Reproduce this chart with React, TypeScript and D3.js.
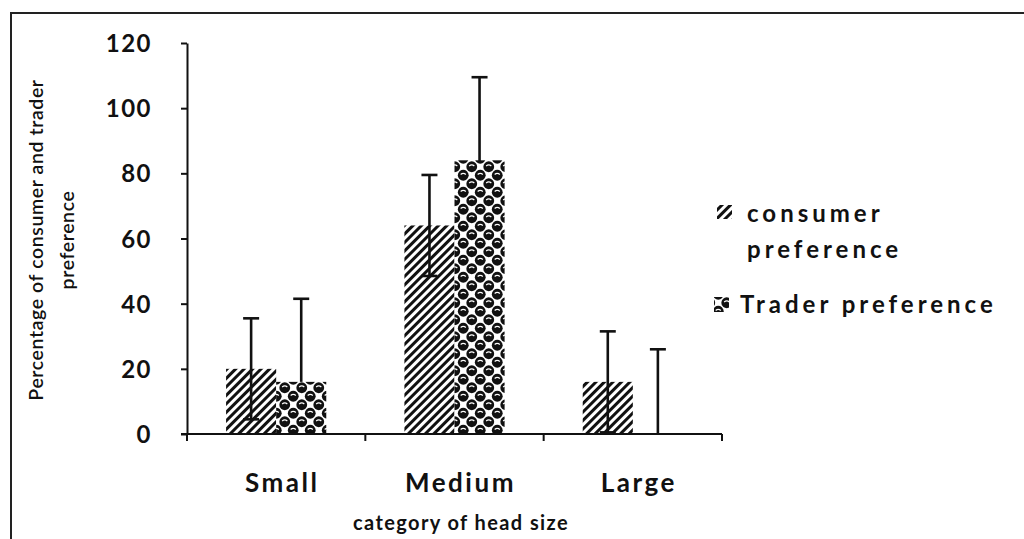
import React, { useEffect, useRef } from "react";
import * as d3 from "d3";

const categories = ["Small", "Medium", "Large"];
const series = ["consumer preference", "Trader preference"];
const consumer = [20, 64, 16];
const consumerErr = [15.5, 15.5, 15.5];
const trader = [16, 84, 0];
const traderErr = [25.5, 25.5, 26];
const yTicks = [0, 20, 40, 60, 80, 100, 120];

const W = 1024;
const H = 539;
const font = "Lato, 'Open Sans', sans-serif";

const App = () => {
  const svgRef = useRef<SVGSVGElement>(null);

  useEffect(() => {
    const svg = d3.select(svgRef.current);
    svg.selectAll("*").remove();

    const left = 187;
    const right = 722;
    const top = 43;
    const bottom = 434;

    const x = d3.scaleBand().domain(categories).range([left, right]).padding(0);
    const xs = d3
      .scaleBand()
      .domain(series)
      .range([0, x.bandwidth()])
      .paddingInner(0)
      .paddingOuter(0.78);
    const y = d3.scaleLinear().domain([0, 120]).range([bottom, top]);

    const defs = svg.append("defs");
    // diagonal hatch
    const hatch = defs
      .append("pattern")
      .attr("id", "hatch")
      .attr("patternUnits", "userSpaceOnUse")
      .attr("width", 6)
      .attr("height", 6)
      .attr("patternTransform", "rotate(45)");
    hatch
      .append("line")
      .attr("x1", 1.5)
      .attr("y1", 0)
      .attr("x2", 1.5)
      .attr("y2", 6)
      .attr("stroke", "#111")
      .attr("stroke-width", 3);

    // sphere dots
    const dots = defs
      .append("pattern")
      .attr("id", "dots")
      .attr("patternUnits", "userSpaceOnUse")
      .attr("width", 17)
      .attr("height", 17)
      .attr("x", 0)
      .attr("y", 1);
    dots.append("rect").attr("width", 17).attr("height", 17).attr("fill", "#fff");
    [
      [4.25, 4.25],
      [12.75, 12.75],
      [12.75, -4.25],
      [-4.25, 12.75],
      [21.25, 12.75],
      [12.75, 21.25],
      [4.25, 21.25],
      [21.25, 4.25],
      [-4.25, 4.25],
      [4.25, -4.25],
    ].forEach(([cx, cy]) => {
      dots.append("circle").attr("cx", cx).attr("cy", cy).attr("r", 5.4).attr("fill", "#111");
      dots
        .append("path")
        .attr("d", `M${cx - 2.6},${cy - 0.8} Q${cx},${cy - 3} ${cx + 2.6},${cy - 0.8}`)
        .attr("fill", "none")
        .attr("stroke", "#fff")
        .attr("stroke-width", 1.2);
    });

    svg.append("rect").attr("width", W).attr("height", H).attr("fill", "#fff");

    // frame
    svg
      .append("rect")
      .attr("x", 11)
      .attr("y", 13)
      .attr("width", W + 20)
      .attr("height", H + 20)
      .attr("fill", "none")
      .attr("stroke", "#222")
      .attr("stroke-width", 2);

    const rows = categories.map((c, i) => ({
      c,
      vals: [
        { s: series[0], v: consumer[i], e: consumerErr[i] },
        { s: series[1], v: trader[i], e: traderErr[i] },
      ],
    }));

    // error bars, drawn under the bars
    const err = svg.append("g").attr("stroke", "#111").attr("stroke-width", 2.6);
    rows.forEach((r) => {
      r.vals.forEach((d) => {
        const cx = (x(r.c) as number) + (xs(d.s) as number) + xs.bandwidth() / 2;
        const hi = y(d.v + d.e);
        const lo = y(Math.max(0, d.v - d.e));
        err.append("line").attr("x1", cx).attr("x2", cx).attr("y1", hi).attr("y2", lo);
        err.append("line").attr("x1", cx - 8).attr("x2", cx + 8).attr("y1", hi).attr("y2", hi);
        if (d.v - d.e > 0)
          err.append("line").attr("x1", cx - 8).attr("x2", cx + 8).attr("y1", lo).attr("y2", lo);
      });
    });

    // bars
    rows.forEach((r) => {
      svg
        .append("g")
        .selectAll("rect")
        .data(r.vals)
        .enter()
        .append("rect")
        .attr("x", (d) => (x(r.c) as number) + (xs(d.s) as number))
        .attr("y", (d) => y(d.v))
        .attr("width", xs.bandwidth())
        .attr("height", (d) => bottom - y(d.v))
        .attr("fill", (d) => (d.s === series[0] ? "url(#hatch)" : "url(#dots)"));
    });

    // y axis
    const yAxis = svg
      .append("g")
      .attr("transform", `translate(${left},0)`)
      .call(d3.axisLeft(y).tickValues(yTicks).tickSize(6).tickSizeOuter(0).tickPadding(29));
    yAxis.select(".domain").attr("stroke", "#111").attr("stroke-width", 2);
    yAxis.selectAll(".tick line").attr("stroke", "#111").attr("stroke-width", 2);
    yAxis
      .selectAll(".tick text")
      .attr("font-family", font)
      .attr("font-size", 24)
      .attr("font-weight", 700)
      .attr("letter-spacing", 1.5)
      .attr("dy", "0.36em")
      .attr("fill", "#111");

    // x axis
    const xAxisG = svg.append("g").attr("transform", `translate(0,${bottom})`);
    xAxisG
      .append("line")
      .attr("x1", left - 6)
      .attr("x2", right)
      .attr("stroke", "#111")
      .attr("stroke-width", 2);
    const bounds = [...categories.map((c) => x(c) as number), right];
    xAxisG
      .selectAll(".xt")
      .data(bounds)
      .enter()
      .append("line")
      .attr("x1", (d) => d)
      .attr("x2", (d) => d)
      .attr("y1", 0)
      .attr("y2", 7)
      .attr("stroke", "#111")
      .attr("stroke-width", 2);
    xAxisG
      .selectAll(".xl")
      .data(categories)
      .enter()
      .append("text")
      .attr("x", (d) => (x(d) as number) + x.bandwidth() / 2 + 6)
      .attr("y", 58)
      .attr("text-anchor", "middle")
      .attr("font-family", font)
      .attr("font-size", 26)
      .attr("font-weight", 700)
      .attr("letter-spacing", 2.5)
      .attr("fill", "#111")
      .text((d) => d);

    // axis titles
    svg
      .append("text")
      .attr("x", 461)
      .attr("y", 530)
      .attr("text-anchor", "middle")
      .attr("font-family", font)
      .attr("font-size", 20)
      .attr("font-weight", 700)
      .attr("letter-spacing", 1.4)
      .attr("fill", "#111")
      .text("category of head size");

    const yt = svg
      .append("text")
      .attr("transform", "translate(0,240) rotate(-90)")
      .attr("text-anchor", "middle")
      .attr("font-family", font)
      .attr("font-size", 19.5)
      .attr("font-weight", 600)
      .attr("letter-spacing", 0.6)
      .attr("fill", "#111");
    yt.append("tspan").attr("x", 0).attr("y", 43).text("Percentage of consumer and trader");
    yt.append("tspan").attr("x", 0).attr("y", 74).text("preference");

    // legend
    const lg = svg
      .append("g")
      .attr("font-family", font)
      .attr("font-size", 24)
      .attr("font-weight", 700)
      .attr("letter-spacing", 4)
      .attr("fill", "#111");
    lg.append("rect").attr("x", 717).attr("y", 205).attr("width", 15).attr("height", 14).attr("fill", "url(#hatch)");
    lg.append("text").attr("x", 747).attr("y", 222).text("consumer");
    lg.append("text").attr("x", 747).attr("y", 258).text("preference");
    lg.append("rect").attr("x", 714).attr("y", 297).attr("width", 15).attr("height", 15).attr("fill", "url(#dots)");
    lg.append("text").attr("x", 740).attr("y", 313).text("Trader preference");
  }, []);

  return (
    <svg
      ref={svgRef}
      width={W}
      height={H}
      style={{ position: "absolute", left: 0, top: 0, display: "block" }}
    />
  );
};

export default App;
